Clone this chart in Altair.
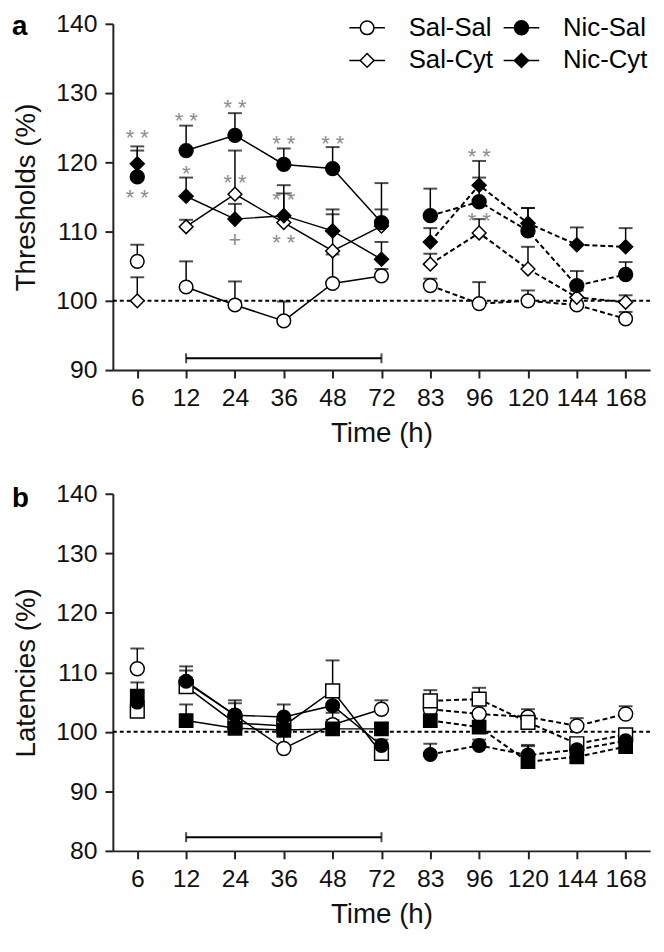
import altair as alt
import pandas as pd

# ---------------- data ----------------
times = ["6", "12", "24", "36", "48", "72", "83", "96", "120", "144", "168"]
groups = ["Sal-Sal", "Sal-Cyt", "Nic-Sal", "Nic-Cyt"]

# Panel a: thresholds (%), mean and SEM
thr_sal_sal = [105.7, 102.0, 99.4, 97.1, 102.5, 103.6, 102.2, 99.6, 100.0, 99.4, 97.4]
thr_sal_sal_sem = [2.4, 3.7, 3.4, 2.8, 4.2, 1.0, 1.0, 3.1, 1.5, 1.0, 1.0]
thr_sal_cyt = [100.0, 110.7, 115.4, 111.3, 107.2, 110.8, 105.3, 109.8, 104.6, 100.5, 99.8]
thr_sal_cyt_sem = [3.4, 1.0, 6.3, 4.2, 6.0, 2.4, 1.5, 2.0, 3.2, 1.0, 1.0]
thr_nic_sal = [117.9, 121.7, 123.9, 119.7, 119.1, 111.3, 112.3, 114.3, 110.1, 102.2, 103.8]
thr_nic_sal_sem = [3.8, 3.6, 3.2, 2.3, 3.1, 5.7, 3.9, 5.9, 3.3, 2.1, 1.8]
thr_nic_cyt = [119.8, 115.1, 111.8, 112.3, 110.1, 106.0, 108.5, 116.7, 111.2, 108.1, 107.8]
thr_nic_cyt_sem = [2.5, 2.7, 2.2, 4.4, 2.4, 2.5, 2.0, 1.1, 2.2, 2.5, 2.7]

# Panel b: latencies (%), mean and SEM
lat_sal_sal = [110.6, 108.3, 102.8, 97.2, 101.2, 103.8, 103.8, 103.0, 102.5, 101.0, 103.0]
lat_sal_sal_sem = [3.4, 2.0, 2.0, 2.0, 2.0, 1.5, 1.5, 1.5, 1.3, 1.3, 1.3]
lat_sal_cyt = [103.5, 107.6, 101.5, 101.0, 106.9, 96.4, 105.2, 105.5, 101.6, 98.0, 99.5]
lat_sal_cyt_sem = [1.0, 1.5, 1.5, 1.5, 5.1, 1.0, 1.8, 1.9, 1.5, 1.0, 1.0]
lat_nic_sal = [105.0, 108.5, 102.8, 102.5, 104.4, 97.7, 96.2, 97.7, 96.1, 97.0, 98.5]
lat_nic_sal_sem = [1.5, 2.5, 2.5, 2.1, 1.5, 1.0, 1.8, 1.0, 1.5, 1.0, 1.0]
lat_nic_cyt = [106.0, 101.9, 100.6, 100.3, 100.5, 100.5, 101.9, 100.8, 95.0, 95.8, 97.5]
lat_nic_cyt_sem = [2.3, 2.7, 2.0, 1.5, 1.5, 1.0, 1.0, 1.0, 2.8, 1.0, 1.0]

# significance marks on panel a: (time, y, text)
sig_times = ["6", "6", "12", "12", "24", "24", "24", "36", "36", "36", "48", "96", "96"]
sig_values = [124.2, 115.5, 126.7, 119.0, 128.5, 117.7, 109.5, 123.3, 115.3, 109.1, 123.4, 121.5, 112.2]
sig_labels = ["* *", "* *", "* *", "*", "* *", "* *", "+", "* *", "* *", "* *", "* *", "* *", "* *"]

# treatment bar (12 h to 72 h)
bar_times = ["12", "72"]
bar_thr = 91.7
bar_lat = 82.3


def build_df(means, sems):
    rows = []
    for g, m_list, s_list in zip(groups, means, sems):
        for i, t in enumerate(times):
            phase = "pre" if i == 0 else ("on" if i <= 5 else "post")
            rows.append(dict(group=g, time=t, value=m_list[i],
                             upper=m_list[i] + s_list[i], phase=phase))
    return pd.DataFrame(rows)


thr_df = build_df([thr_sal_sal, thr_sal_cyt, thr_nic_sal, thr_nic_cyt],
                  [thr_sal_sal_sem, thr_sal_cyt_sem, thr_nic_sal_sem, thr_nic_cyt_sem])
lat_df = build_df([lat_sal_sal, lat_sal_cyt, lat_nic_sal, lat_nic_cyt],
                  [lat_sal_sal_sem, lat_sal_cyt_sem, lat_nic_sal_sem, lat_nic_cyt_sem])
sig_df = pd.DataFrame(dict(time=sig_times, value=sig_values, label=sig_labels))

FONT = "Liberation Sans"
W = 543


def panel(df, ydomain, yticks, ytitle, shapes, sizes, bar_y, letter, letter_y, h,
          legend=False, sig=None):
    xs = alt.Scale(type="point", domain=times, padding=0.5)
    x = alt.X("time:O", sort=times, scale=xs,
              axis=alt.Axis(title="Time (h)", labelAngle=0))
    y_scale = alt.Scale(domain=ydomain, nice=False, zero=False)
    y = alt.Y("value:Q", scale=y_scale,
              axis=alt.Axis(title=ytitle, values=yticks))
    shape = alt.Shape("group:N", scale=alt.Scale(domain=groups, range=shapes), legend=None)
    fill = alt.Fill("group:N", scale=alt.Scale(domain=groups,
                                               range=["white", "white", "black", "black"]),
                    legend=None)
    size = alt.Size("group:N", scale=alt.Scale(domain=groups, range=sizes), legend=None)
    base = alt.Chart(df)

    ref = alt.Chart(pd.DataFrame({"r": [100]})).mark_rule(
        color="black", strokeWidth=2, strokeDash=[4, 3]).encode(y=alt.Y("r:Q", scale=y_scale))

    solid = base.transform_filter("datum.phase == 'on'").mark_line(
        color="black", strokeWidth=1.5).encode(x=x, y=y, detail="group:N")
    dashed = base.transform_filter("datum.phase == 'post'").mark_line(
        color="black", strokeWidth=2, strokeDash=[5, 3]).encode(x=x, y=y, detail="group:N")
    err = base.mark_rule(color="black", strokeWidth=1.5).encode(x=x, y=y, y2="upper:Q")
    caps = base.mark_tick(color="black", thickness=2, size=14, orient="horizontal").encode(
        x=x, y=alt.Y("upper:Q", scale=y_scale))
    pts = base.mark_point(filled=True, stroke="black", strokeWidth=1.5, opacity=1).encode(
        x=x, y=y, shape=shape, fill=fill, size=size)

    bar_df = pd.DataFrame({"t1": [bar_times[0]], "t2": [bar_times[1]], "b": [bar_y]})
    bar = alt.Chart(bar_df).mark_rule(color="black", strokeWidth=2).encode(
        x=alt.X("t1:O", sort=times, scale=xs), x2="t2", y=alt.Y("b:Q", scale=y_scale))
    bar_ends = alt.Chart(pd.DataFrame({"t": bar_times, "b": [bar_y, bar_y]})).mark_tick(
        color="black", thickness=2, size=10, orient="vertical").encode(
        x=alt.X("t:O", sort=times, scale=xs), y=alt.Y("b:Q", scale=y_scale))

    lab = alt.Chart(pd.DataFrame({"l": [letter]})).mark_text(
        font=FONT, fontSize=28, fontWeight="bold", align="left", baseline="alphabetic",
        color="black").encode(text="l:N", x=alt.value(-102), y=alt.value(letter_y))

    layers = [ref, solid, dashed, err, caps, pts, bar, bar_ends, lab]

    if sig is not None:
        sig_layer = alt.Chart(sig).mark_text(
            font=FONT, fontSize=22, color="#8c8c8c", baseline="middle", dy=5).encode(
            x=x, y=alt.Y("value:Q", scale=y_scale), text="label:N")
        layers.append(sig_layer)

    if legend:
        leg_df = pd.DataFrame({"group": groups, "col": [0, 0, 1, 1], "row": [0, 1, 0, 1]})
        leg = alt.Chart(leg_df).transform_calculate(
            lx="257 + datum.col * 156", ly="4 + datum.row * 33",
            lx1="257 + datum.col * 156 - 18", lx2="257 + datum.col * 156 + 18",
            tx="257 + datum.col * 156 + 42")
        leg_line = leg.mark_rule(color="black", strokeWidth=1.5).encode(
            x=alt.X("lx1:Q", scale=None), x2="lx2:Q", y=alt.Y("ly:Q", scale=None))
        leg_pt = leg.mark_point(filled=True, stroke="black", strokeWidth=1.5, opacity=1).encode(
            x=alt.X("lx:Q", scale=None), y=alt.Y("ly:Q", scale=None),
            shape=shape, fill=fill, size=size)
        leg_txt = leg.mark_text(font=FONT, fontSize=26, align="left", baseline="middle",
                                color="black").encode(
            x=alt.X("tx:Q", scale=None), y=alt.Y("ly:Q", scale=None), text="group:N")
        layers += [leg_line, leg_pt, leg_txt]

    return alt.layer(*layers).properties(width=W, height=h)


pa = panel(thr_df, [90, 140], [90, 100, 110, 120, 130, 140], "Thresholds (%)",
           ["circle", "diamond", "circle", "diamond"], [190, 200, 190, 150],
           bar_thr, "a", 11, 350, legend=True, sig=sig_df)
pb = panel(lat_df, [80, 140], [80, 90, 100, 110, 120, 130, 140], "Latencies (%)",
           ["circle", "square", "circle", "square"], [200, 180, 200, 180],
           bar_lat, "b", 13, 361)

chart = alt.vconcat(pa, pb, spacing=35).resolve_scale(
    shape="independent", size="independent", fill="independent"
).properties(
    padding={"left": 4, "top": -1, "right": 5, "bottom": 0}
).configure_view(stroke=None).configure_axis(
    labelFont=FONT, titleFont=FONT, labelFontSize=25, titleFontSize=28,
    titleFontWeight="normal", labelColor="#111", titleColor="#111",
    domainColor="#222", domainWidth=2, tickColor="#222", tickWidth=2, tickSize=8,
    labelPadding=8, grid=False
).configure_axisY(titlePadding=16).configure_axisX(titlePadding=9)

chart.save("out.html", embed_options={"renderer": "svg", "actions": False})
